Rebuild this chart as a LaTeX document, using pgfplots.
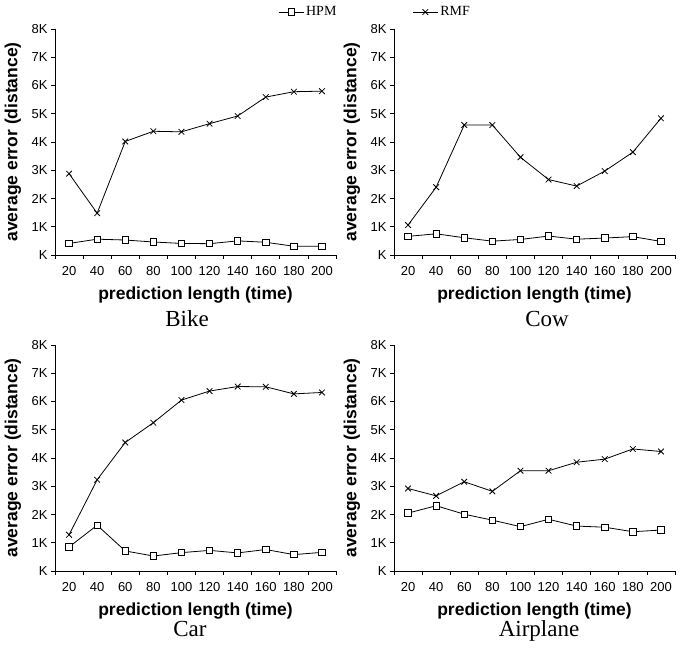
\documentclass[border=0pt]{standalone}
\usepackage{fontspec}
\setmainfont{Liberation Serif}
\newfontfamily\arial{Liberation Sans}
\usepackage{pgfplots}
\pgfplotsset{compat=1.18}

\pgfplotsset{
  errplot/.style={
    scale only axis, width=281pt, height=226pt, anchor=south west,
    xmin=0.5, xmax=10.5, ymin=0, ymax=8000,
    axis x line*=bottom, axis y line*=left,
    axis line style={-, line width=0.8pt},
    xtick={1,...,10}, xticklabels={20,40,60,80,100,120,140,160,180,200},
    major x tick style={draw=none},
    minor xtick={0.5,1.5,...,10.5},
    ytick={0,1000,...,8000}, yticklabels={K,1K,2K,3K,4K,5K,6K,7K,8K},
    tick align=outside, tick style={black, line width=0.8pt},
    major tick length=4pt, minor tick length=4pt,
    tick label style={font=\arial\fontsize{13}{13}\selectfont},
    xticklabel style={yshift=-4pt},
    label style={font=\arial\bfseries\fontsize{17.5}{18}\selectfont},
    xlabel={prediction length (time)},
    ylabel={average error (distance)},
    xlabel style={at={(axis description cs:0.5,-0.177)}, anchor=center},
    ylabel style={at={(axis description cs:-0.15,0.5)}, anchor=center},
    clip=false,
  },
  hpm/.style={black, line width=0.8pt, mark=square*, mark size=3.2pt, mark options={fill=white, solid}},
  rmf/.style={black, line width=0.8pt, mark=x, mark size=4pt, mark options={solid}},
}

\begin{document}
\begin{tikzpicture}
\useasboundingbox (0pt,0pt) rectangle (694pt,656pt);

% Bike
\begin{axis}[errplot, at={(55pt,401pt)},
  legend columns=2,
  legend style={at={(axis description cs:0.794,1.075)}, anchor=west, draw=none, fill=none,
    inner sep=0pt, font=\fontsize{14}{14}\selectfont,
    /tikz/every even column/.append style={column sep=74pt}},
  legend image code/.code={\draw[mark repeat=2,mark phase=2] plot coordinates {(0pt,0pt) (12.5pt,0pt) (25pt,0pt)};},
]
\addplot[hpm] coordinates {(1,410)(2,560)(3,530)(4,460)(5,410)(6,400)(7,500)(8,450)(9,310)(10,310)};
\addplot[rmf] coordinates {(1,2880)(2,1480)(3,4020)(4,4380)(5,4360)(6,4650)(7,4920)(8,5590)(9,5780)(10,5800)};
\legend{HPM, RMF}
\end{axis}

% Cow
\begin{axis}[errplot, at={(394pt,401pt)}]
\addplot[hpm] coordinates {(1,660)(2,750)(3,610)(4,490)(5,550)(6,670)(7,560)(8,600)(9,650)(10,480)};
\addplot[rmf] coordinates {(1,1060)(2,2400)(3,4600)(4,4600)(5,3460)(6,2670)(7,2440)(8,2970)(9,3640)(10,4840)};
\end{axis}

% Car
\begin{axis}[errplot, at={(55pt,85pt)}]
\addplot[hpm] coordinates {(1,850)(2,1620)(3,710)(4,530)(5,650)(6,730)(7,640)(8,760)(9,580)(10,660)};
\addplot[rmf] coordinates {(1,1280)(2,3230)(3,4550)(4,5250)(5,6050)(6,6370)(7,6530)(8,6520)(9,6270)(10,6320)};
\end{axis}

% Airplane
\begin{axis}[errplot, at={(394pt,85pt)}]
\addplot[hpm] coordinates {(1,2050)(2,2310)(3,2010)(4,1800)(5,1570)(6,1830)(7,1590)(8,1550)(9,1390)(10,1450)};
\addplot[rmf] coordinates {(1,2920)(2,2660)(3,3160)(4,2820)(5,3550)(6,3550)(7,3850)(8,3960)(9,4320)(10,4230)};
\end{axis}

\node[anchor=base, font=\fontsize{23}{23}\selectfont] at (187pt,329pt) {Bike};
\node[anchor=base, font=\fontsize{23}{23}\selectfont] at (547pt,329pt) {Cow};
\node[anchor=base, font=\fontsize{23}{23}\selectfont] at (190pt,19pt) {Car};
\node[anchor=base, font=\fontsize{23}{23}\selectfont] at (539pt,19pt) {Airplane};
\end{tikzpicture}
\end{document}
